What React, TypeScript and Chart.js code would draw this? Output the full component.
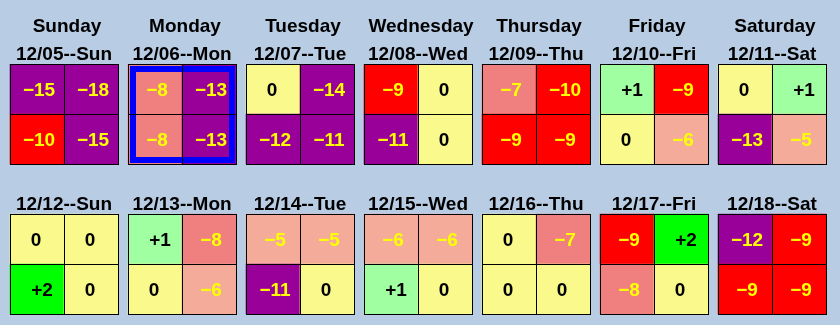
import React, { useEffect, useRef } from 'react';
import { Chart, registerables } from 'chart.js';

Chart.register(...registerables);

// ---- data ----
const dayNames = ['Sunday', 'Monday', 'Tuesday', 'Wednesday', 'Thursday', 'Friday', 'Saturday'];
const week1Dates = ['12/05--Sun', '12/06--Mon', '12/07--Tue', '12/08--Wed', '12/09--Thu', '12/10--Fri', '12/11--Sat'];
const week2Dates = ['12/12--Sun', '12/13--Mon', '12/14--Tue', '12/15--Wed', '12/16--Thu', '12/17--Fri', '12/18--Sat'];
// two cells per day (left, right), seven days
const week1Top = [-15, -18, -8, -13, 0, -14, -9, 0, -7, -10, 1, -9, 0, 1];
const week1Bottom = [-10, -15, -8, -13, -12, -11, -11, 0, -9, -9, 0, -6, -13, -5];
const week2Top = [0, 0, 1, -8, -5, -5, -6, -6, 0, -7, -9, 2, -12, -9];
const week2Bottom = [2, 0, 0, -6, -11, 0, 1, 0, 0, 0, -8, 0, -9, -9];
const highlightDate = '12/06--Mon';

// ---- layout / style ----
const CELL_W = 54 / 118; // cell width as a fraction of a day slot
const FONT = "bold 19px 'Liberation Sans', Arial, sans-serif";
const BG = '#b8cce4';

function cellColor(v: number): string {
  if (v >= 2) return '#00ff00';
  if (v === 1) return '#a0ffa0';
  if (v === 0) return '#fafa8c';
  if (v >= -6) return '#f5ab9a';
  if (v >= -8) return '#f08080';
  if (v >= -10) return '#ff0000';
  return '#990099';
}

function formatValue(v: number): string {
  if (v > 0) return '+' + v;
  if (v < 0) return '\u2212' + Math.abs(v);
  return '0';
}

type Cell = { x: number; y: [number, number]; v: number };

function buildCells(): Cell[] {
  const rows = [
    { vals: week1Top, w: 0, r: 0 },
    { vals: week1Bottom, w: 0, r: 1 },
    { vals: week2Top, w: 1, r: 0 },
    { vals: week2Bottom, w: 1, r: 1 },
  ];
  const cells: Cell[] = [];
  rows.forEach(({ vals, w, r }) => {
    vals.forEach((v, k) => {
      const day = Math.floor(k / 2);
      const col = k % 2;
      const x = day + 0.5 + (col === 0 ? -1 : 1) * (CELL_W / 2);
      const top = w * 3 + r;
      cells.push({ x, y: [top, top + 1], v });
    });
  });
  return cells;
}

const cells = buildCells();

const calendarPlugin = {
  id: 'calendarPlugin',
  afterDatasetsDraw(chart: any) {
    const { ctx } = chart;
    const xs = chart.scales.x;
    const ys = chart.scales.y;
    const meta = chart.getDatasetMeta(0);
    ctx.save();

    // highlight box
    const weeks = [week1Dates, week2Dates];
    weeks.forEach((dates, w) => {
      const d = dates.indexOf(highlightDate);
      if (d < 0) return;
      const L = Math.round(xs.getPixelForValue(d + 0.5 - CELL_W));
      const R = Math.round(xs.getPixelForValue(d + 0.5 + CELL_W));
      const T = Math.round(ys.getPixelForValue(w * 3));
      const B = Math.round(ys.getPixelForValue(w * 3 + 2));
      ctx.strokeStyle = '#0000ff';
      ctx.lineWidth = 6;
      ctx.strokeRect(L + 5, T + 5, R + 1 - L - 10, B + 1 - T - 10);
    });

    // grid lines
    ctx.strokeStyle = '#000000';
    ctx.lineWidth = 1;
    meta.data.forEach((el: any) => {
      const p = el.getProps(['x', 'y', 'base', 'width'], true);
      const L = Math.round(p.x - p.width / 2);
      const R = Math.round(p.x + p.width / 2);
      const T = Math.round(Math.min(p.y, p.base));
      const B = Math.round(Math.max(p.y, p.base));
      ctx.strokeRect(L + 0.5, T + 0.5, R - L, B - T);
    });

    // values
    ctx.font = FONT;
    ctx.textAlign = 'center';
    ctx.textBaseline = 'alphabetic';
    meta.data.forEach((el: any, i: number) => {
      const c = cells[i];
      const p = el.getProps(['x', 'y', 'base'], true);
      const cy = (p.y + p.base) / 2;
      const dx = c.v > 0 ? 5 : c.v < 0 ? 2 : -1;
      ctx.fillStyle = c.v < 0 ? '#ffff00' : '#000000';
      ctx.fillText(formatValue(c.v), p.x + dx, cy + 7);
    });

    // day names and date labels
    ctx.fillStyle = '#000000';
    dayNames.forEach((name, d) => {
      ctx.fillText(name, xs.getPixelForValue(d + 0.5) + 3, ys.getPixelForValue(-0.64));
    });
    weeks.forEach((dates, w) => {
      dates.forEach((lbl, d) => {
        ctx.fillText(lbl, xs.getPixelForValue(d + 0.5), ys.getPixelForValue(w * 3 - 0.08));
      });
    });

    ctx.restore();
  },
};

export default function App() {
  const ref = useRef<HTMLCanvasElement>(null);
  useEffect(() => {
    document.body.style.margin = '0';
    const chart = new Chart(ref.current as HTMLCanvasElement, {
      type: 'bar',
      data: {
        datasets: [
          {
            data: cells.map((c) => ({ x: c.x, y: c.y })) as any,
            backgroundColor: cells.map((c) => cellColor(c.v)),
            borderWidth: 0,
            barPercentage: 1,
            categoryPercentage: 1,
          },
        ],
      },
      options: {
        animation: false,
        responsive: true,
        maintainAspectRatio: false,
        layout: { padding: { left: 5, right: 9, top: 64, bottom: 11 } },
        plugins: { legend: { display: false }, tooltip: { enabled: false } },
        scales: {
          x: { type: 'linear', min: 0, max: 7, display: false, offset: false },
          y: { type: 'linear', min: 0, max: 5, reverse: true, display: false },
        },
      },
      plugins: [calendarPlugin],
    });
    return () => chart.destroy();
  }, []);
  return (
    <div style={{ position: 'absolute', left: 0, top: 0, width: 840, height: 325, background: BG }}>
      <canvas ref={ref} />
    </div>
  );
}
